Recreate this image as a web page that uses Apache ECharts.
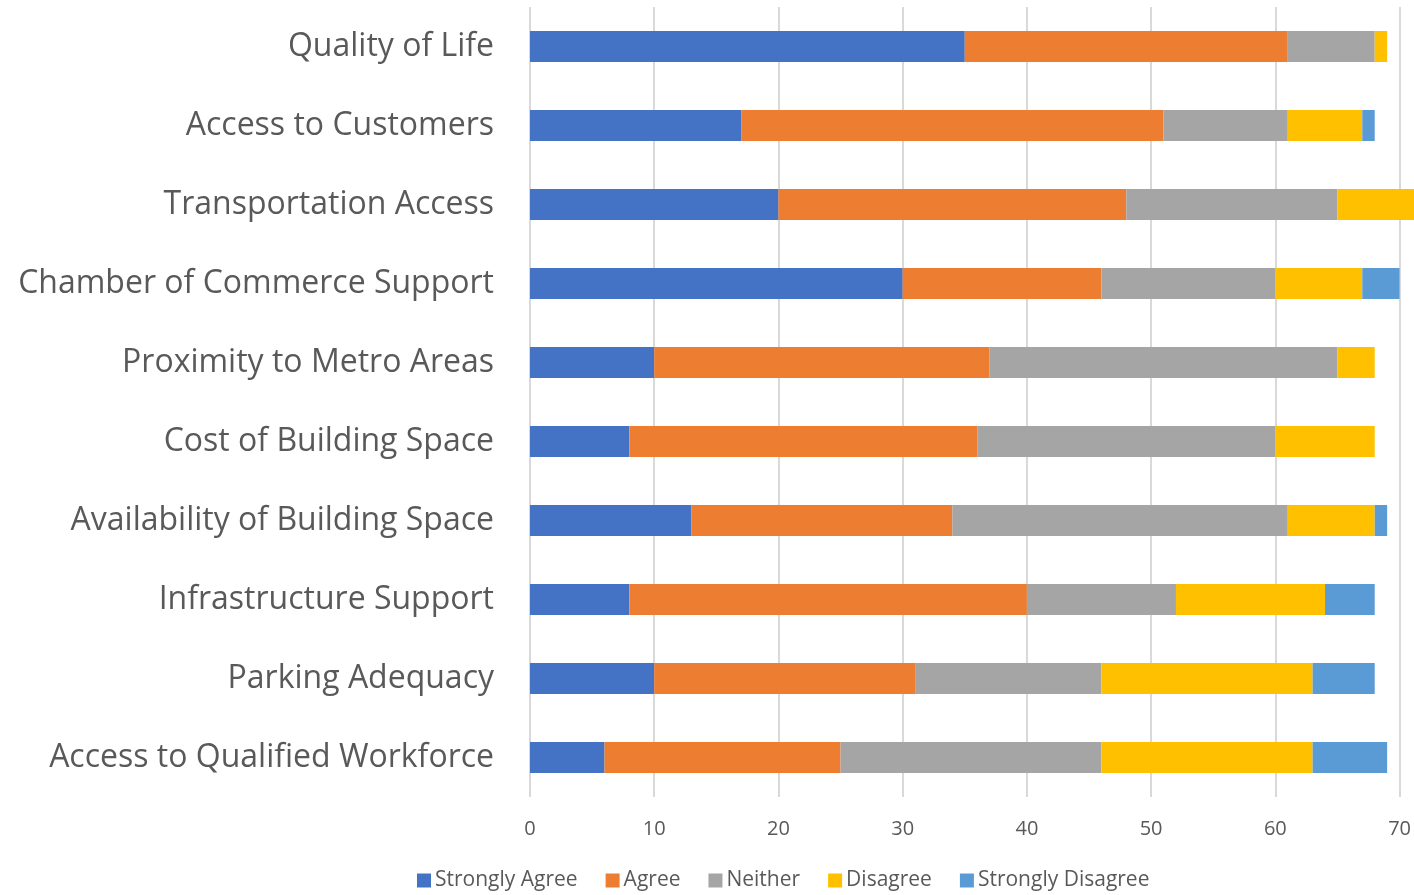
<!DOCTYPE html>
<html>
<head>
<meta charset="utf-8">
<script src="https://cdn.jsdelivr.net/npm/echarts@6/dist/echarts.min.js"></script>
<style>
  html, body { margin: 0; padding: 0; background: #fff; }
  #chart { width: 1414px; height: 895px; }
</style>
</head>
<body>
<div id="chart"></div>
<script>
// categories listed bottom to top (category axis starts at the bottom)
const categories = [
  'Access to Qualified Workforce',
  'Parking Adequacy',
  'Infrastructure Support',
  'Availability of Building Space',
  'Cost of Building Space',
  'Proximity to Metro Areas',
  'Chamber of Commerce Support',
  'Transportation Access',
  'Access to Customers',
  'Quality of Life',
];
const stronglyAgree = [6, 10, 8, 13, 8, 10, 30, 20, 17, 35];
const agree = [19, 21, 32, 21, 28, 27, 16, 28, 34, 26];
const neither = [21, 15, 12, 27, 24, 28, 14, 17, 10, 7];
const disagree = [17, 17, 12, 7, 8, 3, 7, 7, 6, 1];
const stronglyDisagree = [6, 5, 4, 1, 0, 0, 3, 0, 1, 0];
const xTicks = [0, 10, 20, 30, 40, 50, 60, 70];

const seriesList = [
  { name: 'Strongly Agree', data: stronglyAgree, color: '#4472C4' },
  { name: 'Agree', data: agree, color: '#ED7D31' },
  { name: 'Neither', data: neither, color: '#A5A5A5' },
  { name: 'Disagree', data: disagree, color: '#FFC000' },
  { name: 'Strongly Disagree', data: stronglyDisagree, color: '#5B9BD5' },
];

const font = 'Open Sans, Noto Sans, sans-serif';
const chart = echarts.init(document.getElementById('chart'));

chart.setOption({
  animation: false,
  grid: {
    top: 7,
    left: 530,
    right: 11,
    bottom: 98,
    containLabel: false,
  },
  legend: {
    top: 870,
    left: 412,
    padding: [0, 5],
    itemWidth: 14,
    itemHeight: 14,
    itemGap: 28,
    icon: 'rect',
    data: seriesList.map(({ name }) => name),
    textStyle: {
      color: '#595959',
      fontSize: 21,
      fontFamily: font,
      padding: [0, 0, 0, -1],
    },
  },
  xAxis: {
    type: 'value',
    min: xTicks[0],
    max: xTicks[xTicks.length - 1],
    interval: 10,
    axisLine: { show: false },
    axisTick: { show: false },
    axisLabel: {
      color: '#595959',
      fontSize: 20,
      fontFamily: font,
      margin: 22,
    },
    splitLine: {
      lineStyle: { color: '#D9D9D9', width: 2 },
    },
  },
  yAxis: {
    type: 'category',
    data: categories,
    axisLine: { show: false },
    axisTick: { show: false },
    axisLabel: {
      color: '#595959',
      fontSize: 32,
      fontFamily: font,
      margin: 36,
    },
  },
  series: seriesList.map(({ name, data, color }) => ({
    name,
    type: 'bar',
    stack: 'total',
    data,
    barWidth: 31,
    clip: false,
    itemStyle: { color },
  })),
});
</script>
</body>
</html>
